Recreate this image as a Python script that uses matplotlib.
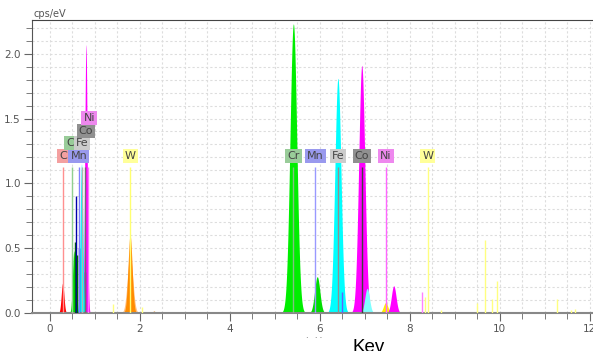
import numpy as np
import matplotlib
matplotlib.use("Agg")
import matplotlib.pyplot as plt
from matplotlib.ticker import MultipleLocator
from matplotlib.patches import Rectangle

# peaks of the spectrum: centre (keV), height (cps/eV), sigma (keV), colour
peak_pos = [0.28, 0.53, 0.80, 0.70, 1.78, 1.78, 2.31,
            5.41, 5.94, 6.40, 6.93, 7.05, 7.46, 7.64, 8.40]
peak_hgt = [0.23, 0.48, 2.07, 1.15, 0.45, 0.60, 0.015,
            2.23, 0.28, 1.81, 1.91, 0.19, 0.08, 0.21, 0.012]
peak_sig = [0.030, 0.030, 0.027, 0.030, 0.060, 0.045, 0.03,
            0.075, 0.058, 0.068, 0.068, 0.052, 0.050, 0.052, 0.03]
peak_col = ['#ff0000', '#00e000', '#ff00ff', '#00ffff', '#ffc080', '#ff8c00', '#d07000',
            '#00ee00', '#00dd00', '#00ffff', '#ff00ff', '#80ffff', '#ffee00', '#ff00ff', '#d07000']

# thin single-channel lines
stem_pos = [0.56, 0.58, 0.61, 0.64, 0.78, 1.39, 2.04, 6.49, 8.26, 8.33, 8.70,
            9.50, 9.67, 9.82, 9.93, 11.27, 11.59, 11.67]
stem_hgt = [0.55, 0.90, 0.45, 0.50, 0.32, 0.07, 0.05, 0.16, 0.16, 0.12, 0.02,
            0.08, 0.56, 0.11, 0.25, 0.11, 0.02, 0.03]
stem_col = ['#006600', '#0000aa', '#006600', '#0000aa', '#505050', '#ffff80', '#ffff80',
            '#6060ff', '#ff80ff', '#ffff80', '#ffff80',
            '#ffff80', '#ffff80', '#ffff80', '#ffff80', '#ffff80', '#ffff80', '#ffff80']

# element markers: name, energy, label row, marker colour, label colour
mark_name = ['C', 'Cr', 'Mn', 'Fe', 'Co', 'Ni', 'W',
             'Cr', 'Mn', 'Fe', 'Co', 'Ni', 'W']
mark_pos = [0.28, 0.50, 0.65, 0.71, 0.78, 0.85, 1.78,
            5.41, 5.90, 6.40, 6.93, 7.47, 8.40]
label_pos = [0.29, 0.50, 0.64, 0.71, 0.80, 0.87, 1.78,
             5.41, 5.90, 6.40, 6.93, 7.47, 8.40]
mark_row = [0, 1, 0, 1, 2, 3, 0, 0, 0, 0, 0, 0, 0]
mark_col = ['#ff9090', '#90d090', '#8080ff', '#b0b0b0', '#707070', '#ff70ff', '#ffff70',
            '#80c080', '#9999ff', '#909090', '#404040', '#ff66ff', '#ffff80']
box_col = ['#f4a0a0', '#99cc99', '#9999ee', '#cccccc', '#909090', '#ee88ee', '#ffff99',
           '#99cc99', '#9999ee', '#cccccc', '#909090', '#ee88ee', '#ffff99']
row_y = [1.21, 1.31, 1.405, 1.505]

fig = plt.figure(figsize=(5.93, 3.51), dpi=100)
ax = fig.add_axes([32 / 593, 1 - 313 / 351, 1 - 32 / 593, (313 - 20) / 351])

x = np.linspace(-0.4, 12.1, 6000)
for c, h, s, col in zip(peak_pos, peak_hgt, peak_sig, peak_col):
    y = h * np.exp(-0.5 * ((x - c) / s) ** 2)
    ax.fill_between(x, 0, y, where=y > 0.002, color=col, lw=0, zorder=2)

ax.vlines(stem_pos, 0, stem_hgt, colors=stem_col, lw=1, zorder=3)
ax.vlines(mark_pos, 0, 1.13, colors=mark_col, lw=1, zorder=4)

for name, xp, r, bc in zip(mark_name, label_pos, mark_row, box_col):
    ax.text(xp, row_y[r], name, ha='center', va='center', fontsize=8,
            color='#444444', zorder=5 + r,
            bbox=dict(boxstyle='square,pad=0.18', fc=bc, ec='none'))

ax.set_xlim(-0.4, 12.07)
ax.set_ylim(0, 2.26)
ax.xaxis.set_major_locator(MultipleLocator(2))
ax.xaxis.set_minor_locator(MultipleLocator(0.5))
ax.yaxis.set_major_locator(MultipleLocator(0.5))
ax.yaxis.set_minor_locator(MultipleLocator(0.1))
ax.yaxis.set_major_formatter(matplotlib.ticker.FormatStrFormatter('%.1f'))
ax.grid(True, which='both', ls=(0, (2, 2)), color='#dddddd', lw=0.8, zorder=0)
ax.set_axisbelow(True)
ax.tick_params(which='major', direction='out', length=6, color='#666666',
               labelcolor='#555555', labelsize=7.5, pad=2)
ax.tick_params(which='minor', direction='out', length=4, color='#666666')

ax.spines['right'].set_visible(False)
ax.spines['top'].set_color('#444444')
ax.spines['left'].set_color('#555555')
ax.spines['bottom'].set_color('#888888')
ax.spines['bottom'].set_linewidth(1.5)

fig.text(34 / 593, 1 - 17 / 351, 'cps/eV', fontsize=7, color='#555555')
fig.text(305 / 593, 1 - 344 / 351, 'keV', fontsize=6.5, color='#888888', zorder=3)
fig.patches.append(Rectangle((290 / 593, 0), 120 / 593, 13 / 351, zorder=4,
                             transform=fig.transFigure, fc='white', ec='none'))
fig.text(352 / 593, -1 / 351, 'Kev', fontsize=13.5, color='black',
         family='Liberation Sans', va='baseline', zorder=5)

fig.savefig('out.png', dpi=100)
